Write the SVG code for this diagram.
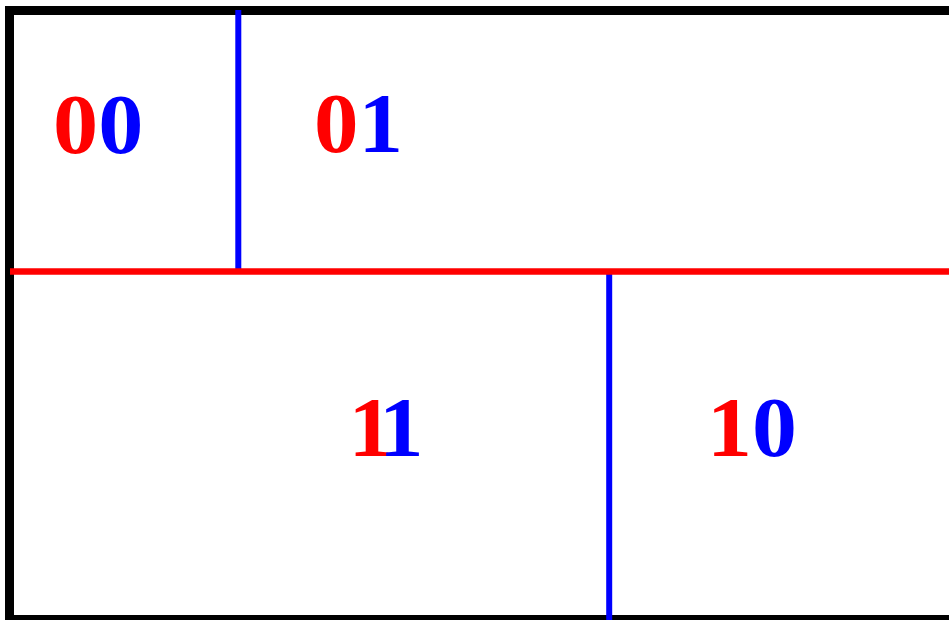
<svg xmlns="http://www.w3.org/2000/svg" width="949" height="620" viewBox="0 0 949 620">
<style>
.lbl{font-family:"Liberation Serif","Times New Roman",serif;font-weight:bold;font-size:84px}
.r{fill:#ff0000}.b{fill:#0000ff}
</style>
<rect width="949" height="620" fill="#fff"/>
<g id="frame"><rect x="9.5" y="10.5" width="960" height="609" fill="none" stroke="#000" stroke-width="9"/></g>
<g id="connectors">
<line x1="238.3" y1="10" x2="238.3" y2="271" stroke="#0000ff" stroke-width="6"/>
<line x1="609.2" y1="271" x2="609.2" y2="620" stroke="#0000ff" stroke-width="6"/>
<line x1="10" y1="271.5" x2="949" y2="271.5" stroke="#ff0000" stroke-width="6.5"/>
</g>
<g id="n00"><text class="lbl" transform="translate(53,153) scale(1.075,1)"><tspan class="r">0</tspan><tspan class="b">0</tspan></text></g>
<g id="n01"><text class="lbl" transform="translate(314,152) scale(1.06,1)"><tspan class="r">0</tspan><tspan class="b">1</tspan></text></g>
<g id="n11"><text class="lbl r" transform="translate(348.5,456) scale(1.06,1)">1</text><text class="lbl b" transform="translate(379,456) scale(1.06,1)">1</text></g>
<g id="n10"><text class="lbl" transform="translate(707,456) scale(1.07,1)"><tspan class="r">1</tspan><tspan class="b">0</tspan></text></g>
</svg>
